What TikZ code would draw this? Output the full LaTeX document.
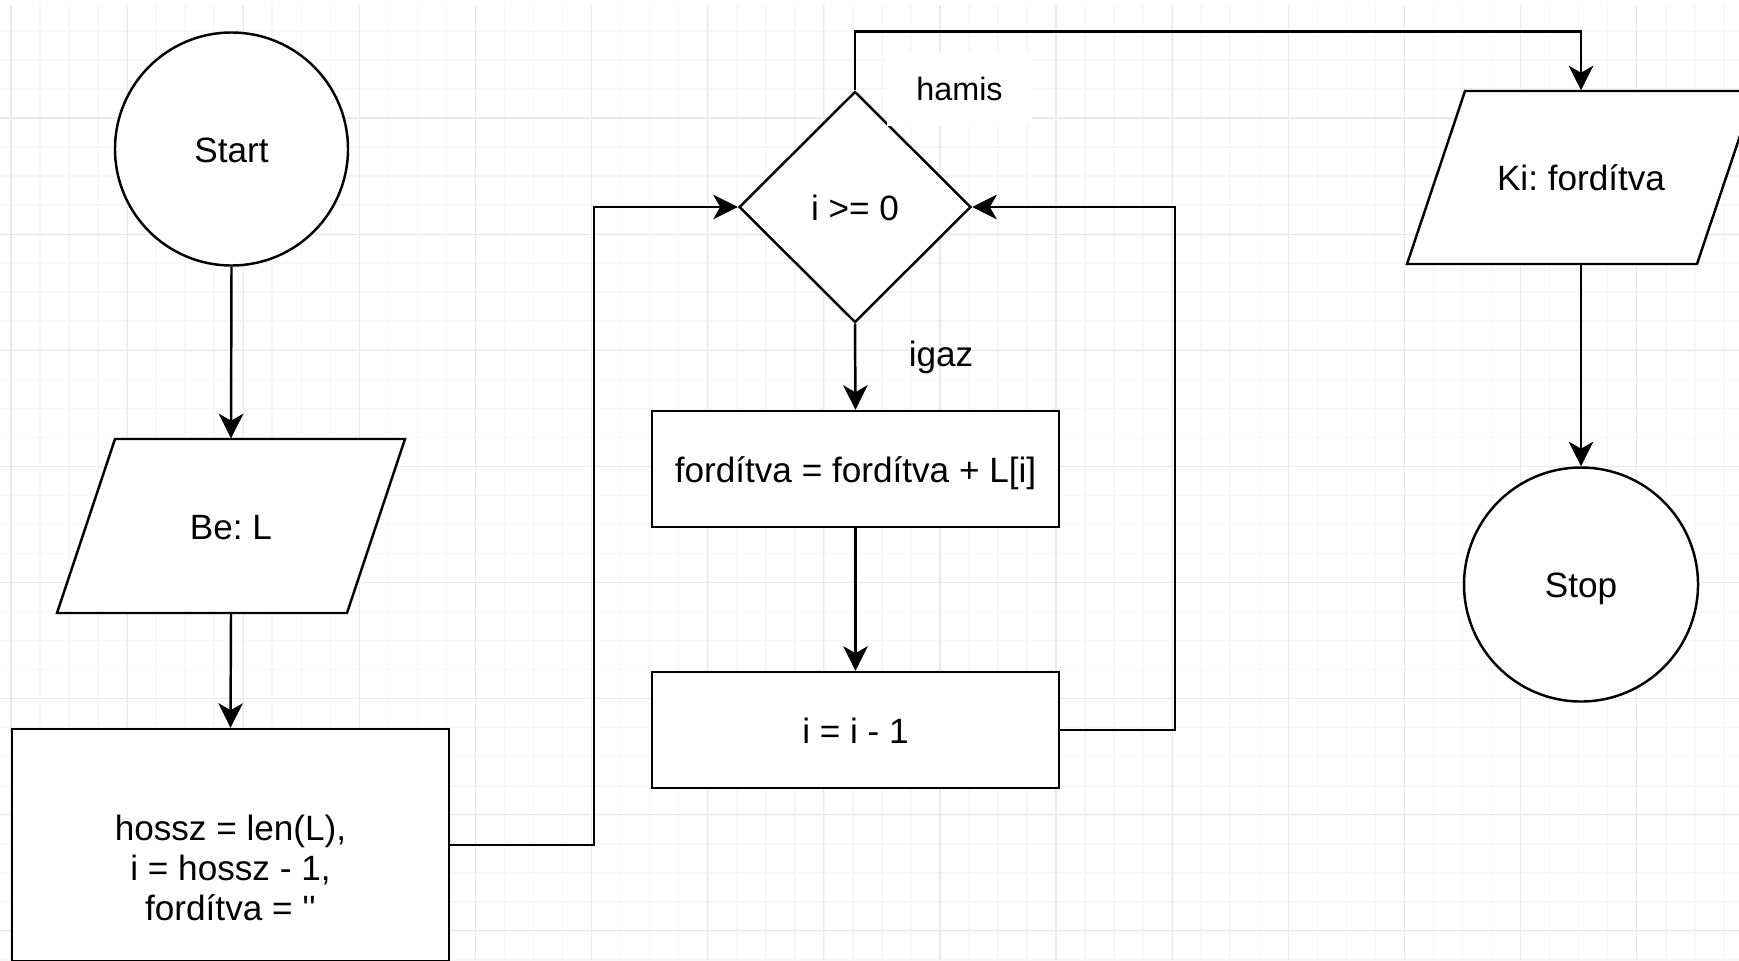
\documentclass[tikz,border=0pt]{standalone}
\usepackage{fontspec}
\newfontfamily\flowfont{Liberation Sans}[Ligatures=TeXOff]
\usetikzlibrary{shapes.geometric,arrows.meta}
\frenchspacing

\begin{document}
\begin{tikzpicture}[
  every node/.style={font=\flowfont\fontsize{10}{11.4}\selectfont},
  oneline/.style={text height=7.5pt, text depth=0pt},
  box/.style={shape=rectangle, draw=black, line width=0.7pt, fill=white, inner sep=0pt, oneline},
  term/.style={shape=circle, draw=black, line width=0.7pt, fill=white, inner sep=0pt, minimum size=2.33cm, oneline},
  io/.style={shape=rectangle, inner sep=0pt, minimum width=3.48cm, minimum height=1.74cm, oneline},
  ioline/.style={draw=black, line width=0.7pt, fill=white, line join=miter},
  decision/.style={shape=diamond, draw=black, line width=0.7pt, fill=white, inner sep=0pt, minimum width=2.32cm, minimum height=2.31cm, oneline},
  flow/.style={-{Stealth[length=7pt,width=7pt,inset=2pt]}, line width=0.7pt, draw=black},
  minorgrid/.style={draw=gray!6, line width=0.45pt},
  majorgrid/.style={draw=gray!17, line width=0.35pt}
]
\useasboundingbox (0,0) rectangle (17.39,9.6);
\clip (0,0) rectangle (17.39,9.6);
\fill[white] (0,0) rectangle (17.39,9.6);

% grid
\foreach \i in {0,...,61} \path[minorgrid] ({0.11+(\i-1)*0.2903},0) -- ++(0,9.55);
\foreach \j in {1,...,33} \path[minorgrid] (0,{9.581-\j*0.2903}) -- ++(17.39,0);
\foreach \i in {0,...,15} \path[majorgrid] ({0.11+\i*1.1612},0) -- ++(0,9.55);
\foreach \j in {1,...,8} \path[majorgrid] (0,{9.581-\j*1.1612}) -- ++(17.39,0);

% input / output parallelograms
\path[ioline] (1.15,5.21) -- (4.05,5.21) -- (3.47,3.47) -- (0.57,3.47) -- cycle;
\path[ioline] (14.65,8.69) -- (17.55,8.69) -- (16.97,6.96) -- (14.07,6.96) -- cycle;

\node[term] (start) at (2.315,8.11) {Start};
\node[io] (be) at (2.31,4.34) {Be: L};
\node[box, minimum width=4.37cm, minimum height=2.32cm] (init) at (2.305,1.15) {};
\node[align=center] (inittext) at (2.305,0.92) {hossz = len(L),\\ i = hossz - 1,\\ fordítva = ''};
\node[decision] (cond) at (8.55,7.53) {i >= 0};
\node[box, minimum width=4.07cm, minimum height=1.16cm] (body) at (8.555,4.91) {fordítva = fordítva + L[i]};
\node[box, minimum width=4.07cm, minimum height=1.16cm] (dec) at (8.555,2.30) {i = i - 1};
\node[io, minimum height=1.73cm] (ki) at (15.81,7.825) {Ki: fordítva};
\node[term, minimum size=2.34cm] (stop) at (15.81,3.755) {Stop};

\draw [flow] (start.south) -- (be.north);
\draw [flow] (be.south) -- (init.north);
\draw [flow] (init.east) -- ++(1.44,0) |- (cond.west);
\draw [flow] (cond.south) -- (body.north);
\draw [flow] (body.south) -- (dec.north);
\draw [flow] (dec.east) -- ++(1.15,0) |- (cond.east);
\draw [flow] (cond.north) -- ++(0,0.59) -| (ki.north);
\draw [flow] (ki.south) -- (stop.north);

\node[fill=white, inner sep=0pt, minimum width=1.45cm, minimum height=0.74cm, font=\flowfont\fontsize{9.2}{10}\selectfont] (hamis) at (9.595,8.71) {hamis};
\node[oneline] (igaz) at (9.41,6.07) {igaz};
\end{tikzpicture}
\end{document}
